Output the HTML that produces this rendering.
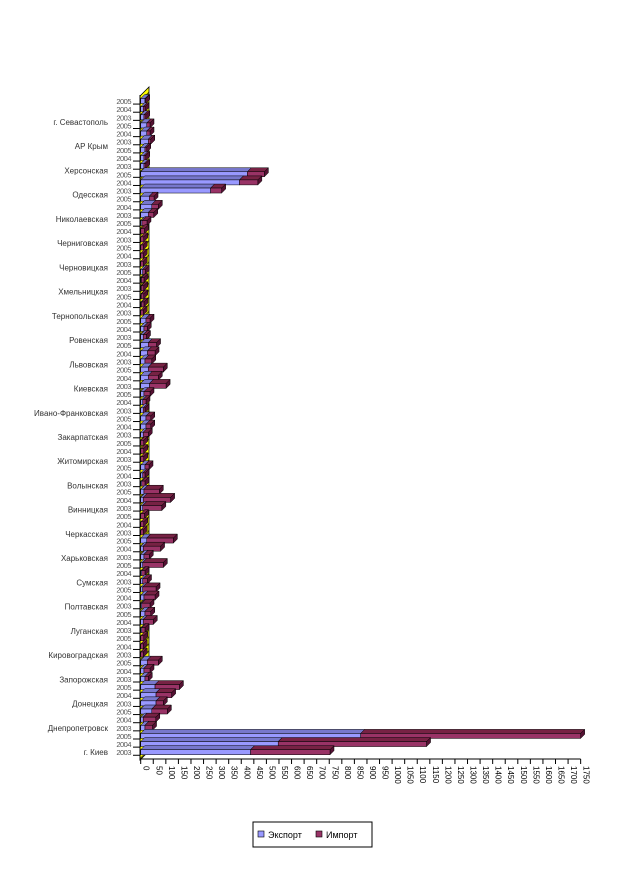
<!DOCTYPE html>
<html><head><meta charset="utf-8"><style>
html,body{margin:0;padding:0;background:#fff;}
svg{display:block;font-family:"Liberation Sans","Noto Sans CJK SC",sans-serif;}
</style></head><body>
<svg id="chart" width="624" height="876" viewBox="0 0 624 876" xmlns="http://www.w3.org/2000/svg">
<defs>
<pattern id="wallpat" width="5" height="5" patternUnits="userSpaceOnUse" patternTransform="rotate(45)">
<rect width="5" height="5" fill="#ffff00"/><rect width="1.2" height="5" fill="#555500"/>
</pattern>
</defs>
<polygon points="140,96 149,87 149,751 140,760" fill="url(#wallpat)" stroke="#000" stroke-width="0.8"/>
<g id="bars"></g>
<g id="yaxis"></g>
<g id="xaxis"></g>
<g>
<rect x="253" y="822" width="119" height="25" fill="#fff" stroke="#000" stroke-width="1"/>
<rect x="258" y="831" width="6" height="6" fill="#9999ff" stroke="#000" stroke-width="0.6"/>
<text x="268" y="838" font-size="9" fill="#000">Экспорт</text>
<rect x="316" y="831" width="6" height="6" fill="#993366" stroke="#000" stroke-width="0.6"/>
<text x="326" y="838" font-size="9" fill="#000">Импорт</text>
</g>
</svg>
<script>
const regions = ["г. Севастополь","АР Крым","Херсонская","Одесская","Николаевская","Черниговская","Черновицкая","Хмельницкая","Тернопольская","Ровенская","Львовская","Киевская","Ивано-Франковская","Закарпатская","Житомирская","Волынская","Винницкая","Черкасская","Харьковская","Сумская","Полтавская","Луганская","Кировоградская","Запорожская","Донецкая","Днепропетровск","г. Киев"];
const years = ["2005","2004","2003"];
const exportVals = [17,10,13,24,24,30,17,13,13,424,393,278,34,44,30,5,
0,0,0,0,0,8,3,2,2,3,0,21,13,10,30,27,17,
30,30,35,13,8,10,21,21,10,0,0,0,17,8,4,13,
10,8,0,0,0,24,10,13,8,4,8,8,13,4,17,10,4,
0,0,0,26,13,17,57,61,61,44,10,17,875,547,437];
const importVals = [3,7,7,13,13,10,7,7,7,68,73,44,19,26,22,20,
15,12,10,10,10,10,10,10,10,10,10,16,13,13,33,30,27,
60,40,66,24,13,7,19,19,20,12,12,12,16,9,13,61,
109,76,15,12,10,106,69,21,82,13,19,53,44,33,23,40,13,
12,10,10,44,24,13,97,62,29,62,50,30,875,590,316];
const ticks = [];
for (let t = 0; t <= 1750; t += 50) ticks.push(t);

const NS = "http://www.w3.org/2000/svg";
const X0 = 140.7, SX = 0.2514, Y0 = 101, ROW = 8.14, H = 5, DX = 4, DY = 4;
const xs = v => X0 + v * SX;
const ys = i => Y0 + i * ROW;
function mk(tag, attrs, parent) {
  const el = document.createElementNS(NS, tag);
  for (const k in attrs) el.setAttribute(k, attrs[k]);
  parent.appendChild(el);
  return el;
}
const bars = document.getElementById("bars");
function box(x1, x2, cy, fill, top, side, name) {
  const y1 = cy - H / 2, y2 = cy + H / 2;
  const g = mk("g", {}, bars);
  
  
  mk("polygon", {points: `${x1},${y1} ${x1+DX},${y1-DY} ${x2+DX},${y1-DY} ${x2},${y1}`, fill: top, stroke: "#000", "stroke-width": 0.5}, g);
  mk("polygon", {points: `${x2},${y1} ${x2+DX},${y1-DY} ${x2+DX},${y2-DY} ${x2},${y2}`, fill: side, stroke: "#000", "stroke-width": 0.5}, g);
  mk("rect", {x: x1, y: y1, width: Math.max(0, x2 - x1), height: H, fill: fill, stroke: "#000", "stroke-width": 0.5}, g);
}
for (let i = 0; i < exportVals.length; i++) {
  const cy = ys(i);
  const e = exportVals[i], im = importVals[i];
  if (e > 0) box(xs(0), xs(e), cy, "#9999ff", "#7777cc", "#5555aa", "bar-export-" + i);
  if (im > 0) box(xs(e), xs(e + im), cy, "#993366", "#772244", "#551133", "bar-import-" + i);
}
const yax = document.getElementById("yaxis");
const axl = mk("line", {x1: 140, y1: 95, x2: 140, y2: 760, stroke: "#000", "stroke-width": 1}, yax);


for (let i = 0; i < exportVals.length; i++) {
  const cy = ys(i);
  mk("line", {x1: 133, y1: cy + ROW/2 - 1, x2: 140, y2: cy + ROW/2 - 1, stroke: "#000", "stroke-width": 1}, yax);
  const t = mk("text", {x: 131, y: cy + 3, "font-size": 7.5, "text-anchor": "end", fill: "#555", "letter-spacing": "-0.5"}, yax);
  
  
  t.textContent = years[i % 3];
}
regions.forEach((r, k) => {
  const t = mk("text", {x: 108, y: 125 + k * 24.23, "font-size": 8, "text-anchor": "end", fill: "#333"}, yax);
  
  
  t.textContent = r;
});
const xax = document.getElementById("xaxis");
const xl = mk("line", {x1: 140, y1: 759, x2: xs(1750), y2: 759, stroke: "#000", "stroke-width": 1}, xax);


ticks.forEach(t => {
  const x = xs(t);
  mk("line", {x1: x, y1: 759, x2: x, y2: 764, stroke: "#000", "stroke-width": 1}, xax);
  const tx = mk("text", {x: 0, y: 0, "font-size": 8, fill: "#000", transform: `translate(${x + 3},766) rotate(90)`}, xax);
  
  
  tx.textContent = t;
});
</script>
</body></html>
